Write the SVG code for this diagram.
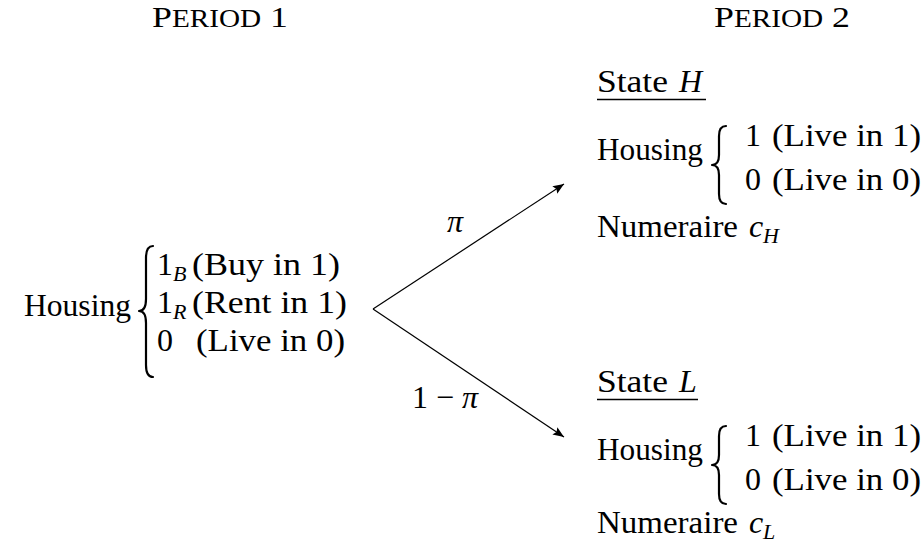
<svg xmlns="http://www.w3.org/2000/svg" width="923" height="545" viewBox="0 0 923 545" font-family="'Liberation Serif', 'Times New Roman', serif">
<style>
text{font-family:"Liberation Serif","Times New Roman",serif;font-size:32px;fill:#000}
.it{font-style:italic}
.sub{font-size:22px;font-style:italic}
.hd{font-size:30px}
.sm{font-size:24.5px}
.brace{fill:none;stroke:#000;stroke-width:2.2;stroke-linejoin:round;stroke-linecap:round}
.edge{stroke:#000;stroke-width:1.2;fill:none}
.ul{stroke:#000;stroke-width:1.3}
</style>
<defs>
<marker id="ah" markerUnits="userSpaceOnUse" markerWidth="12" markerHeight="9" refX="11" refY="4.5" orient="auto">
<path d="M0,0 L11,4.5 L0,9 L2,4.5 z" fill="#000"/>
</marker>
</defs>
<rect width="923" height="545" fill="#fff"/>
<g id="headers">
<text class="hd" x="152" y="27" textLength="136" lengthAdjust="spacingAndGlyphs">P<tspan class="sm">ERIOD</tspan> 1</text>
<text class="hd" x="714" y="27" textLength="136" lengthAdjust="spacingAndGlyphs">P<tspan class="sm">ERIOD</tspan> 2</text>
</g>
<g id="period1">
<text x="24" y="316" textLength="107" lengthAdjust="spacingAndGlyphs">Housing</text>
<path class="brace" d="M153,246 Q146,246 146,258 L146,299 Q146,311 139,311 Q146,311 146,323 L146,365 Q146,377 153,377"/>
<text x="157" y="275">1</text><text class="sub" x="173" y="281">B</text>
<text x="192" y="275" textLength="148" lengthAdjust="spacingAndGlyphs">(Buy in 1)</text>
<text x="157" y="313">1</text><text class="sub" x="173" y="319">R</text>
<text x="192" y="313" textLength="155" lengthAdjust="spacingAndGlyphs">(Rent in 1)</text>
<text x="157" y="351">0</text>
<text x="196" y="351" textLength="149" lengthAdjust="spacingAndGlyphs">(Live in 0)</text>
</g>
<g id="stateH">
<text x="597" y="92" textLength="71" lengthAdjust="spacingAndGlyphs">State</text><text class="it" x="679" y="92">H</text>
<line class="ul" x1="597" y1="99.5" x2="706" y2="99.5"/>
<text x="597" y="160" textLength="106" lengthAdjust="spacingAndGlyphs">Housing</text>
<path class="brace" d="M726,126 Q719,126 719,136 L719,155 Q719,165 712,165 Q719,165 719,175 L719,194 Q719,204 726,204"/>
<text x="745" y="146">1</text>
<text x="772" y="146" textLength="149" lengthAdjust="spacingAndGlyphs">(Live in 1)</text>
<text x="745" y="190">0</text>
<text x="772" y="190" textLength="149" lengthAdjust="spacingAndGlyphs">(Live in 0)</text>
<text x="597" y="237" textLength="141" lengthAdjust="spacingAndGlyphs">Numeraire</text>
<text class="it" x="749" y="237">c</text><text class="sub" x="763" y="243">H</text>
</g>
<g id="stateL">
<text x="597" y="392" textLength="71" lengthAdjust="spacingAndGlyphs">State</text><text class="it" x="679" y="392">L</text>
<line class="ul" x1="597" y1="399.5" x2="698" y2="399.5"/>
<text x="597" y="460" textLength="106" lengthAdjust="spacingAndGlyphs">Housing</text>
<path class="brace" d="M726,426 Q719,426 719,436 L719,455 Q719,465 712,465 Q719,465 719,475 L719,494 Q719,504 726,504"/>
<text x="745" y="446">1</text>
<text x="772" y="446" textLength="149" lengthAdjust="spacingAndGlyphs">(Live in 1)</text>
<text x="745" y="490">0</text>
<text x="772" y="490" textLength="149" lengthAdjust="spacingAndGlyphs">(Live in 0)</text>
<text x="597" y="533" textLength="141" lengthAdjust="spacingAndGlyphs">Numeraire</text>
<text class="it" x="749" y="533">c</text><text class="sub" x="763" y="539">L</text>
</g>
<g id="connectors">
<line class="edge" x1="373" y1="309" x2="564" y2="184" marker-end="url(#ah)"/>
<line class="edge" x1="373" y1="309" x2="564" y2="437" marker-end="url(#ah)"/>
<text class="it" x="447" y="232">π</text>
<text x="412" y="408">1 − <tspan class="it">π</tspan></text>
</g>
</svg>
